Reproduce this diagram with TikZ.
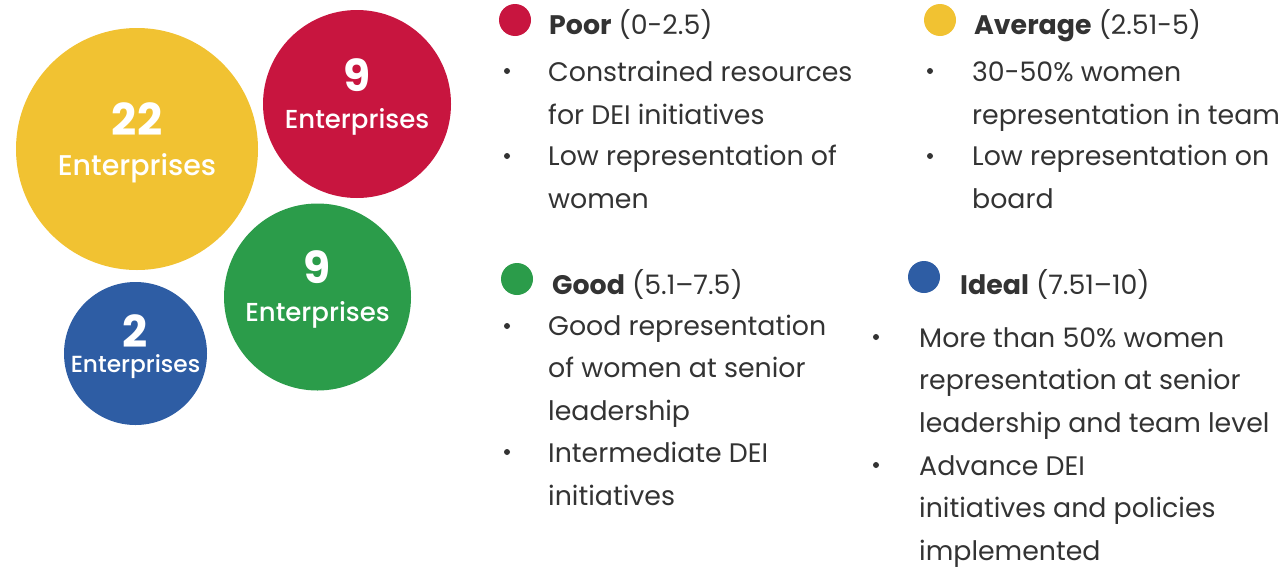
\documentclass[tikz,border=0pt]{standalone}
\usepackage{fontspec}
\setmainfont{Poppins}
\newfontfamily\medfont{Poppins Medium}
\definecolor{poorred}{HTML}{C8153F}
\definecolor{avgyellow}{HTML}{F1C232}
\definecolor{goodgreen}{HTML}{2B9C4A}
\definecolor{idealblue}{HTML}{2E5DA4}
\definecolor{bodygray}{HTML}{333333}
\tikzset{
  bubble/.style={circle, inner sep=0pt, minimum size=#1},
  bignum/.style={text=white, anchor=base, inner sep=0pt, font=\fontsize{44}{44}\selectfont\bfseries},
  bubbletext/.style={text=white, anchor=base, inner sep=0pt, font=\fontsize{#1}{#1}\selectfont\medfont},
  legenddot/.style={circle, inner sep=0pt, minimum size=32pt},
  heading/.style={text=bodygray, anchor=base west, inner sep=0pt, font=\fontsize{26.8}{26.8}\selectfont},
  item/.style={text=bodygray, anchor=base west, inner sep=0pt, align=left, font=\fontsize{26.8}{42.5}\selectfont},
  bulletdot/.style={circle, fill=bodygray, inner sep=0pt, minimum size=6pt},
}
\begin{document}
\begin{tikzpicture}[x=1pt, y=-1pt]
  \useasboundingbox (0,0) rectangle (1284,568);
  % bubbles
  \node[bubble=242pt, fill=avgyellow] (avgc) at (137,149) {};
  \node[bubble=188pt, fill=poorred] (poorc) at (357,104) {};
  \node[bubble=187pt, fill=goodgreen] (goodc) at (317.5,297) {};
  \node[bubble=143pt, fill=idealblue] (idealc) at (135.5,353.5) {};
  \node[bignum] (avgn) at (137,135) {22};
  \node[bubbletext=28.5] (avgt) at (137,175) {Enterprises};
  \node[bignum] (poorn) at (357,91) {9};
  \node[bubbletext=26] (poort) at (357,128) {Enterprises};
  \node[bignum] (goodn) at (317.5,283) {9};
  \node[bubbletext=26] (goodt) at (317.5,321) {Enterprises};
  \node[bignum] (idealn) at (135.5,347) {2};
  \node[bubbletext=23.3] (idealt) at (135.5,372) {Enterprises};
  % poor
  \node[legenddot, fill=poorred] (poord) at (515,20) {};
  \node[heading] (poorh) at (549,34) {\textbf{Poor} (0-2.5)};
  \node[bulletdot] (poorb1) at (507,71) {};
  \node[item] (poori1) at (548,124) {Constrained resources\\for DEI initiatives};
  \node[bulletdot] (poorb2) at (507,156) {};
  \node[item] (poori2) at (548,208) {Low representation of\\women};
  % average
  \node[legenddot, fill=avgyellow] (avgd) at (940,20) {};
  \node[heading] (avgh) at (974,34) {\textbf{Average} (2.51-5)};
  \node[bulletdot] (avgb1) at (930,71) {};
  \node[item] (avgi1) at (972,124) {30-50\% women\\representation in team};
  \node[bulletdot] (avgb2) at (930,156) {};
  \node[item] (avgi2) at (972,208) {Low representation on\\board};
  % good
  \node[legenddot, fill=goodgreen] (goodd) at (517,279) {};
  \node[heading] (goodh) at (552,294) {\textbf{Good} (5.1–7.5)};
  \node[bulletdot] (goodb1) at (507,326) {};
  \node[item] (goodi1) at (548,420) {Good representation\\of women at senior\\leadership};
  \node[bulletdot] (goodb2) at (507,452) {};
  \node[item] (goodi2) at (548,505) {Intermediate DEI\\initiatives};
  % ideal
  \node[legenddot, fill=idealblue] (ideald) at (924,277) {};
  \node[heading] (idealh) at (960,294) {\textbf{Ideal} (7.51–10)};
  \node[bulletdot] (idealb1) at (876,337) {};
  \node[item] (ideali1) at (919,432) {More than 50\% women\\representation at senior\\leadership and team level};
  \node[bulletdot] (idealb2) at (876,465) {};
  \node[item] (ideali2) at (919,560) {Advance DEI\\initiatives and policies\\implemented};
\end{tikzpicture}
\end{document}
